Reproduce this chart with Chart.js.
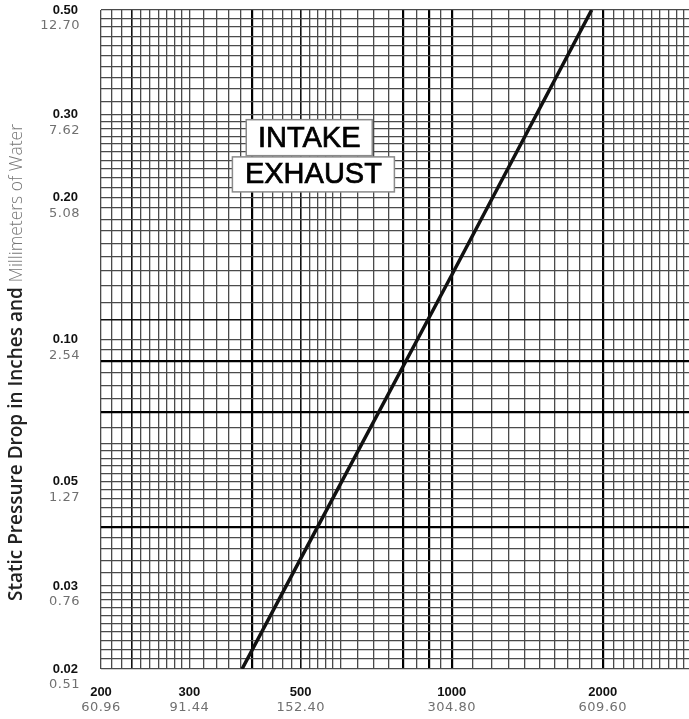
<!DOCTYPE html>
<html>
<head>
<meta charset="utf-8">
<script src="https://cdn.jsdelivr.net/npm/chart.js@4.4.1/dist/chart.umd.min.js"></script>
<style>
  html, body { margin: 0; padding: 0; background: #fff; }
  #wrap { width: 689px; height: 719px; }
</style>
</head>
<body>
<div id="wrap"><canvas id="chart" width="689" height="719"></canvas></div>
<script>
// airflow (cfm) vs static pressure drop (in. water)
const flowValues = [382, 500, 1000, 1900];
const pressureValues = [0.02, 0.0343, 0.137, 0.50];

// labelled ticks: inches / millimetres
const xTickValues = [200, 300, 500, 1000, 2000];
const xTickMm = ["60.96", "91.44", "152.40", "304.80", "609.60"];
const yTickValues = [0.50, 0.30, 0.20, 0.10, 0.05, 0.03, 0.02];
const yTickText = ["0.50", "0.30", "0.20", "0.10", "0.05", "0.03", "0.02"];
const yTickMm = ["12.70", "7.62", "5.08", "2.54", "1.27", "0.76", "0.51"];

// chart paper rulings
const xGrid = [];
for (let v = 200; v <= 300; v += 10) xGrid.push(v);
for (let v = 320; v <= 600; v += 20) xGrid.push(v);
for (let v = 650; v <= 1000; v += 50) xGrid.push(v);
for (let v = 1100; v <= 2900; v += 100) xGrid.push(v);
const xHeavy = [400, 800, 900, 1000, 2000];
const xMedium = [230, 500];

const yGrid = [];
for (let i = 20; i <= 30; i++) yGrid.push(i / 1000);
for (let i = 32; i <= 60; i += 2) yGrid.push(i / 1000);
for (let i = 65; i <= 100; i += 5) yGrid.push(i / 1000);
for (let i = 11; i <= 30; i++) yGrid.push(i / 100);
for (let i = 32; i <= 50; i += 2) yGrid.push(i / 100);
const yHeavy = [0.04, 0.07, 0.09];
const yMedium = [0.11];

const inList = (list, v) => list.some(h => Math.abs(h - v) < 1e-6);
const lineColor = (heavy, medium) => ctx =>
  inList(heavy, ctx.tick.value) ? "#000" : inList(medium, ctx.tick.value) ? "#111" : "#4a4a4a";
const lineWidth = (heavy, medium) => ctx =>
  inList(heavy, ctx.tick.value) ? 2.2 : inList(medium, ctx.tick.value) ? 1.6 : 1.3;

const labelsPlugin = {
  id: "paperLabels",
  afterDraw(chart) {
    const c = chart.ctx;
    const xs = chart.scales.x;
    const ys = chart.scales.y;
    c.save();

    // y tick labels
    c.textAlign = "right";
    c.textBaseline = "middle";
    yTickValues.forEach((v, i) => {
      const py = ys.getPixelForValue(v);
      c.fillStyle = "#111";
      c.font = "bold 13px 'Liberation Sans', Arial, sans-serif";
      c.letterSpacing = "0px";
      c.fillText(yTickText[i], 78, py);
      c.fillStyle = "#707070";
      c.font = "13px 'DejaVu Sans', sans-serif";
      c.letterSpacing = "0.5px";
      c.fillText(yTickMm[i], 80, py + 16);
    });

    // x tick labels
    c.textAlign = "center";
    xTickValues.forEach((v, i) => {
      const px = xs.getPixelForValue(v);
      c.fillStyle = "#111";
      c.font = "bold 13px 'Liberation Sans', Arial, sans-serif";
      c.letterSpacing = "0px";
      c.fillText(String(v), px, 692);
      c.fillStyle = "#707070";
      c.font = "13px 'DejaVu Sans', sans-serif";
      c.letterSpacing = "0.5px";
      c.fillText(xTickMm[i], px, 708);
    });
    c.letterSpacing = "0px";

    // axis title, two weights
    c.save();
    c.translate(17, 601);
    c.rotate(-Math.PI / 2);
    c.textAlign = "left";
    c.textBaseline = "middle";
    const boldPart = "Static Pressure Drop in Inches and ";
    c.font = "600 19px 'Open Sans', sans-serif";
    c.fillStyle = "#222";
    c.fillText(boldPart, 0, 0);
    const w = c.measureText(boldPart).width;
    c.font = "300 17.5px 'Open Sans', sans-serif";
    c.fillStyle = "#777";
    c.fillText("Millimeters of Water", w, 0);
    c.restore();

    // INTAKE / EXHAUST boxes
    const box = (text, xv, yv, bw, bh) => {
      const cx = xs.getPixelForValue(xv);
      const cy = ys.getPixelForValue(yv);
      c.fillStyle = "#fff";
      c.fillRect(cx - bw / 2, cy - bh / 2, bw, bh);
      c.strokeStyle = "#8a8a8a";
      c.lineWidth = 1.5;
      c.strokeRect(cx - bw / 2, cy - bh / 2, bw, bh);
      c.fillStyle = "#000";
      c.strokeStyle = "#000";
      c.lineWidth = 0.7;
      c.font = "29px 'Liberation Sans', Arial, sans-serif";
      c.textAlign = "center";
      c.textBaseline = "middle";
      c.fillText(text, cx, cy + 1);
      c.strokeText(text, cx, cy + 1);
    };
    box("INTAKE", 520, 0.268, 126, 36);
    box("EXHAUST", 530, 0.224, 162, 35);

    c.restore();
  }
};

new Chart(document.getElementById("chart"), {
  type: "scatter",
  data: {
    datasets: [{
      data: flowValues.map((x, i) => ({ x, y: pressureValues[i] })),
      showLine: true,
      borderColor: "#111",
      borderWidth: 3.5,
      pointRadius: 0,
      tension: 0
    }]
  },
  options: {
    responsive: false,
    animation: false,
    layout: { padding: { top: 10, left: 0, right: 0, bottom: 0 } },
    plugins: { legend: { display: false }, tooltip: { enabled: false } },
    scales: {
      x: {
        type: "logarithmic",
        min: 200,
        max: 2970,
        afterBuildTicks: s => { s.ticks = xGrid.map(v => ({ value: v })); },
        afterFit: s => { s.height = 50; },
        ticks: { display: false },
        border: { display: false },
        grid: {
          drawTicks: false,
          color: lineColor(xHeavy, xMedium),
          lineWidth: lineWidth(xHeavy, xMedium)
        }
      },
      y: {
        type: "logarithmic",
        min: 0.02,
        max: 0.50,
        afterBuildTicks: s => { s.ticks = yGrid.map(v => ({ value: v })); },
        afterFit: s => { s.width = 101; },
        ticks: { display: false },
        border: { display: false },
        grid: {
          drawTicks: false,
          color: lineColor(yHeavy, yMedium),
          lineWidth: lineWidth(yHeavy, yMedium)
        }
      }
    }
  },
  plugins: [labelsPlugin]
});
</script>
</body>
</html>
